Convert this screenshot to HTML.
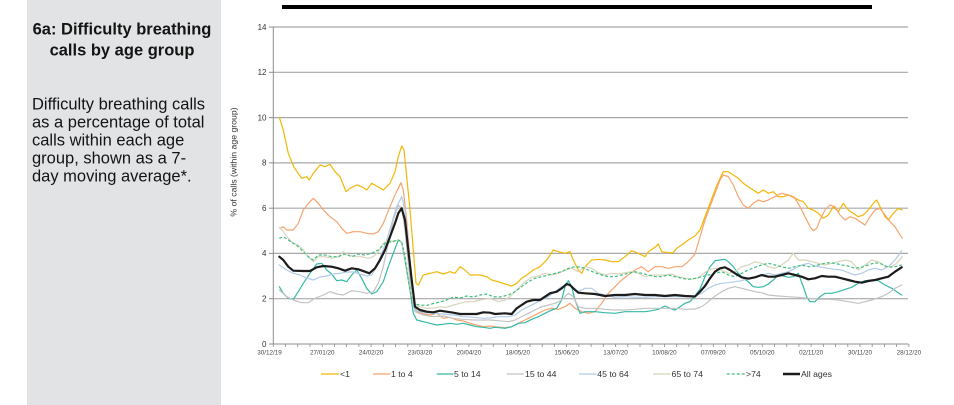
<!DOCTYPE html>
<html><head><meta charset="utf-8"><style>
html,body{margin:0;padding:0;background:#fff;width:954px;height:405px;overflow:hidden}
svg{display:block}
text{font-family:"Liberation Sans",Arial,sans-serif}
</style></head><body>
<svg width="954" height="405" viewBox="0 0 954 405" xmlns="http://www.w3.org/2000/svg">
<rect x="0" y="0" width="954" height="405" fill="#fff"/>
<rect x="27" y="0" width="194" height="405" fill="#e2e3e5"/>
<g fill="#141414">
<text x="122" y="34.5" font-size="16.5" font-weight="bold" text-anchor="middle">6a: Difficulty breathing</text>
<text x="122" y="55.5" font-size="16.5" font-weight="bold" text-anchor="middle">calls by age group</text>
<text x="32" y="109.3" font-size="16.5">Difficulty breathing calls</text>
<text x="32" y="127.3" font-size="16.5">as a percentage of total</text>
<text x="32" y="145.3" font-size="16.5">calls within each age</text>
<text x="32" y="163.3" font-size="16.5">group, shown as a 7-</text>
<text x="32" y="181.5" font-size="16.5">day moving average*.</text>
</g>
<rect x="282" y="5" width="590" height="4" fill="#000"/>
<!-- gridlines -->
<g stroke="#a8a8a8" stroke-width="1.2">
<line x1="273" y1="27" x2="908" y2="27"/>
<line x1="273" y1="72.3" x2="908" y2="72.3"/>
<line x1="273" y1="117.6" x2="908" y2="117.6"/>
<line x1="273" y1="162.9" x2="908" y2="162.9"/>
<line x1="273" y1="208.2" x2="908" y2="208.2"/>
<line x1="273" y1="253.4" x2="908" y2="253.4"/>
<line x1="273" y1="298.7" x2="908" y2="298.7"/>
</g>
<g stroke="#8c8c8c" stroke-width="1">
<line x1="273.3" y1="27" x2="273.3" y2="344"/>
<line x1="273" y1="344" x2="908.5" y2="344"/>
<line x1="269" y1="27" x2="273" y2="27"/>
<line x1="269" y1="72.3" x2="273" y2="72.3"/>
<line x1="269" y1="117.6" x2="273" y2="117.6"/>
<line x1="269" y1="162.9" x2="273" y2="162.9"/>
<line x1="269" y1="208.2" x2="273" y2="208.2"/>
<line x1="269" y1="253.4" x2="273" y2="253.4"/>
<line x1="269" y1="298.7" x2="273" y2="298.7"/>
<line x1="269" y1="344" x2="273" y2="344"/>
</g>
<g stroke="#8c8c8c" stroke-width="0.8" id="xt"></g>
<g fill="#333" font-size="8" text-anchor="end">
<text x="266.5" y="29.8">14</text>
<text x="266.5" y="75.1">12</text>
<text x="266.5" y="120.4">10</text>
<text x="266.5" y="165.7">8</text>
<text x="266.5" y="211">6</text>
<text x="266.5" y="256.2">4</text>
<text x="266.5" y="301.5">2</text>
<text x="266.5" y="346.8">0</text>
</g>
<text transform="translate(236.5,162) rotate(-90)" font-size="8.7" fill="#333" text-anchor="middle">% of calls (within age group)</text>
<g fill="#444" font-size="6.3" text-anchor="middle">
<text x="269.5" y="354.5">30/12/19</text>
<text x="322.2" y="354.5">27/01/20</text>
<text x="371.1" y="354.5">24/02/20</text>
<text x="420" y="354.5">23/03/20</text>
<text x="468.9" y="354.5">20/04/20</text>
<text x="517.8" y="354.5">18/05/20</text>
<text x="566.6" y="354.5">15/06/20</text>
<text x="615.5" y="354.5">13/07/20</text>
<text x="664.4" y="354.5">10/08/20</text>
<text x="713.3" y="354.5">07/09/20</text>
<text x="762.2" y="354.5">05/10/20</text>
<text x="811.1" y="354.5">02/11/20</text>
<text x="860" y="354.5">30/11/20</text>
<text x="908.9" y="354.5">28/12/20</text>
</g>
<g fill="none" stroke-linejoin="round" stroke-linecap="round">
<!-- <1 -->
<polyline stroke="#f2b705" stroke-width="1.2" points="279.3,117.3 283.3,130 288.3,153.3 294,167.3 301.7,178.3 306.7,176.7 309.3,180 313.3,173.3 320,165 325,166.7 330,164.3 335,171.7 340,176.7 346,191.7 350,188.3 356.7,185 361.7,186.7 366.7,190 371.7,183.3 376.7,186 383.3,190 390,183.3 395,171.7 398.3,156.7 401.7,146 404,150 406.7,176.7 410,210 413.3,250 416,283.3 418.3,285 423.3,275 430,273.3 436.7,271.7 443.3,274 450,271.7 455,273.3 460,266.7 465,270 470,275 480,275 486.7,276.7 491.7,280 498.3,281.7 505,284 511.7,286 516.7,283.3 521.7,278.3 526.7,275 533.3,270 540,266.7 546.7,260 553.3,250 558.3,251.7 565,253.3 570,251.7 573.3,260 578.3,270 581.7,273.3 585,266.7 591.7,260 598.3,259.3 605,260 611.7,261.7 618.3,261.7 625,256.7 631.7,250.7 638.3,253.3 645,256.7 648.3,251.7 655,247.3 658.3,244 661.7,251.7 668.3,252.7 673.3,252.7 676.7,248.3 681.7,245 688.3,240 695,236 700,230 705,216.7 710,203.3 715,190 720,178.3 723.3,171.7 728.3,171.7 733.3,175 738.3,178.3 743.3,183.3 748.3,186.7 753.3,190 758.3,193.3 763.3,190 768.3,193.3 773.3,191.7 778.3,196.7 783.3,196.7 788.3,195 793.3,196.7 798.3,200 803.3,201.7 808.3,208.3 813.3,210 818.3,213.3 823.3,218.3 828.3,215 833.3,206.7 838.3,211.7 843.3,203.3 848.3,210 853.3,213.3 858.3,216.7 863.3,215 868.3,210 873.3,203.3 876.7,200 880,206.7 885,216.7 888.3,220 893.3,213.3 898.3,208.3 902.3,210"/>
<!-- 1 to 4 -->
<polyline stroke="#f5a46e" stroke-width="1.2" points="280,228.3 283.3,226.7 286.7,230 293.3,230 298.3,223.3 303.3,210 308.3,203.3 313.3,198.3 318.3,203.3 323.3,210 330,216.7 336.7,221.7 341.7,228.3 346.7,233.3 353.3,231.7 360,231.7 366.7,233.3 373.3,234 378.3,231.7 383.3,223.3 390,206.7 395,195 401,182.7 403.3,190 406.7,220 410,260 413.3,296.7 416.7,311.7 423.3,314 430,315 436.7,313.3 443.3,318.3 450,317.3 456.7,320 463.3,321 470,323.3 476.7,325 483.3,326.7 490,326 495,326.7 505,327.7 511.7,326.7 518.3,323.3 525,320 531.7,316.7 538.3,313.3 545,310 551.7,308.3 558.3,309.3 565,306.7 570,303.3 575,308.3 581.7,311.7 588.3,313.3 595,311.7 601.7,303.3 608.3,293.3 615,286.7 621.7,280 628.3,275 635,270 641.7,266.7 648.3,271.7 655,266.7 661.7,266.7 668.3,268.3 675,266.7 681.7,266.7 686.7,263 691.7,258 695,254 700,237 705,220 710,206.7 715,193.3 720,180 723.3,175 728.3,176.7 733.3,185 738.3,196.7 743.3,205 748.3,208.3 753.3,203.3 758.3,200 763.3,201.7 768.3,200 775,196.7 781.7,193.3 788.3,195 795,198.3 800,206.7 805,216.7 810,226.7 813.3,230.7 816.7,228.3 820,220 825,210 830,205 835,206.7 840,215 845,220 850,216.7 855,218.3 860,221.7 865,225 870,216.7 875,210 880,208.3 885,215 890,221.7 895,226.7 899,233.3 902.3,238.3"/>
<!-- 5 to 14 -->
<polyline stroke="#35b8a6" stroke-width="1.2" points="279.3,286.7 283.3,293.3 288.3,298.3 293.3,299.3 298.3,291.7 303.3,283.3 310,273.3 316.7,264 321.7,263.3 326.7,270 331.7,274 336.7,280.7 341.7,280 346.7,281.7 351.7,275 356.7,270 361.7,278.3 366.7,288.3 371.7,294 376.7,291.7 383.3,281.7 388.3,266.7 393.3,253.3 398.3,240 401.7,242.7 405,260 410,290 413.3,313.3 416.7,320 423.3,321.7 430,323.3 436.7,325 443.3,324.3 450,323.3 456.7,324.3 463.3,323.3 470,325 476.7,326.7 483.3,327.3 490,328.3 495,327.3 505,328.3 511.7,326.7 518.3,323.3 525,322.7 531.7,319.3 538.3,316.7 545,313.3 551.7,310 556.7,308.3 561.7,300 565,286.7 568.3,280.7 571.7,286.7 575,300 580,313.3 585,311.7 595,311.7 605,312.7 615,313.3 625,311.7 635,311.7 645,311.7 651.7,310.7 658.3,309.3 665,306 670,308.3 675,310 680,306.7 685,303.3 690,301.7 695,296 700,289 705,276.7 710,266.7 715,260.7 720,260 725,259.3 728.3,261.7 733.3,266.7 738.3,273.3 743.3,278.3 748.3,281.7 753.3,286.7 758.3,287.3 763.3,286.7 768.3,284 773.3,280 778.3,275 783.3,276 788.3,277.3 793.3,276.7 798.3,273.3 803.3,286.7 806.7,296.7 810,301.7 815,301.7 820,296.7 825,293.3 831.7,293.3 838.3,291.7 845,289.3 851.7,287.3 858.3,283.3 865,280.7 871.7,280 878.3,280.7 885,285 891.7,288.3 896.7,291.7 901.7,295"/>
<!-- 15 to 44 -->
<polyline stroke="#c3c3c3" stroke-width="1.2" points="279.3,290 286.7,296.7 293.3,300 301.7,302.7 308.3,302.7 315,298.3 323.3,295 330,291.7 336.7,294 343.3,295 351.7,290.7 360,291.7 366.7,293.3 373.3,291.7 378.3,283.3 383.3,266.7 388.3,243.3 393.3,220 398.3,205 401.7,208.3 405,230 408.3,263.3 411.7,296.7 415,311.7 423.3,315 433.3,316.7 443.3,316 453.3,318.3 463.3,319.3 473.3,320 483.3,320 490,320 498.3,320.7 508.3,321.7 515,320 521.7,316.7 528.3,313.3 535,310 541.7,306.7 548.3,305 555,303.3 561.7,300 568.3,293.3 573.3,296.7 578.3,306.7 585,308.3 595,308.3 605,309.3 615,310 625,310 635,309.3 645,308.3 655,308.3 665,308.3 675,308.3 685,309.3 695,309 701.7,306.7 708.3,301.7 715,296 721.7,291.7 728.3,288.3 735,286.7 741.7,288.3 748.3,290 755,291.7 761.7,292.7 768.3,295 778.3,296 788.3,296.7 798.3,297.3 808.3,298.3 818.3,299.3 828.3,299.3 838.3,300 848.3,301.7 858.3,303.3 865,301.7 871.7,300 881.7,296.7 888.3,293.3 895,288.3 901.7,285"/>
<!-- 45 to 64 -->
<polyline stroke="#b1cbe8" stroke-width="1.2" points="279.3,265 286.7,270 293.3,273.3 300,275 306.7,278 313.3,280 320,277 326.7,276 333.3,274 340,273.3 346.7,272 353.3,272 360,274 366.7,276 371.7,275 376.7,266.7 381.7,253.3 386.7,240 391.7,223.3 396.7,206.7 401.7,196.7 405,210 408.3,243.3 411.7,283.3 415,310 423.3,312.7 433.3,313.3 443.3,314 453.3,315 463.3,316.7 473.3,317.3 483.3,318.3 490,318 498.3,316.7 508.3,316.7 515,315 521.7,310 528.3,306.7 535,303.3 541.7,300 548.3,296.7 555,291.7 561.7,286.7 566.7,285 571.7,286.7 578.3,291.7 585,288.3 591.7,288.3 598.3,293.3 605,295 615,297.3 625,296.7 635,297.3 645,297.3 655,296.7 665,296.7 675,296.7 685,296.7 695,296 701.7,293.3 708.3,288.3 715,285 721.7,283.3 728.3,282.7 735,281.7 741.7,280.7 748.3,278.3 755,276.7 761.7,275 768.3,273.3 775,275 781.7,273.3 788.3,271.7 795,268.3 801.7,265 808.3,263.3 815,266 821.7,267.3 828.3,268.3 835,269.3 841.7,270 848.3,272.7 855,275 861.7,273.3 868.3,270 875,268.3 881.7,270 888.3,266.7 895,260 901.7,250.7"/>
<!-- 65 to 74 -->
<polyline stroke="#d8d5bb" stroke-width="1.2" points="279.3,227.3 283.3,231.7 288.3,238.3 293.3,243.3 298.3,245 303.3,250 308.3,256.7 313.3,261.7 318.3,256.7 325,256.7 331.7,258.3 338.3,256.7 343.3,251.7 348.3,255 355,256.7 361.7,256.7 368.3,258.3 373.3,256.7 378.3,251.7 383.3,243.3 388.3,240 393.3,241.7 398.3,240 401.7,243.3 405,256.7 408.3,276.7 411.7,296.7 415,305 420,306.7 426.7,308.3 433.3,308.3 440,306.7 446.7,307.3 453.3,305 460,303.3 466.7,301.7 473.3,301.7 480,300 490,298.3 498.3,301.7 505,300 511.7,295 518.3,288.3 525,281.7 531.7,277.3 538.3,276 545,273.3 551.7,275 558.3,273.3 565,270 571.7,268.3 578.3,271.7 585,266.7 591.7,268.3 598.3,272.7 605,275 611.7,273.3 618.3,274 625,272.7 631.7,271.7 638.3,273.3 645,276.7 651.7,275 658.3,275 665,275 671.7,274 678.3,276.7 685,278.3 691.7,279.3 698.3,278 701.7,275 708.3,270 715,268.3 721.7,270 728.3,273.3 735,271.7 741.7,266.7 748.3,265 755,261.7 761.7,263.3 768.3,266.7 775,268.3 781.7,265 788.3,260 793.3,253.3 798.3,260 805,260 811.7,261.7 818.3,263.3 825,265 831.7,263.3 838.3,261.7 845,260 851.7,261.7 858.3,270 865,265 871.7,260 878.3,261.7 885,266.7 891.7,266.7 896.7,263.3 902.3,256.7"/>
<!-- >74 -->
<polyline stroke="#3fbf80" stroke-width="1.2" stroke-dasharray="3,2" stroke-linecap="butt" points="279.3,238.3 283.3,236.7 288.3,240 293.3,243.3 298.3,246.7 303.3,251.7 308.3,256.7 313.3,260 318.3,255 325,255 331.7,256.7 338.3,256.7 345,254 351.7,256.7 358.3,254 365,255 371.7,253.3 378.3,250 385,243.3 391.7,241.7 398.3,240 401.7,241.7 405,256.7 408.3,280 411.7,298.3 415,304 420,305 426.7,305.5 433.3,303.5 440,302 446.7,300 453.3,297 460,298 466.7,296 473.3,297 480,295 486.7,294 493.3,296.7 500,297 508.3,295 515,291.7 521.7,286.7 528.3,281.7 535,278.3 541.7,276.7 548.3,275 555,273.3 561.7,271.7 568.3,268.3 575,266.7 581.7,267.3 588.3,270 595,272.7 601.7,275 608.3,276.7 615,276.7 621.7,275 628.3,273.3 635,271.7 641.7,273.3 648.3,275 655,276.7 661.7,276.7 668.3,275 675,276.7 681.7,278.3 688.3,279.3 695,278.3 701.7,276.7 708.3,275 715,273.3 721.7,271.7 728.3,275 735,276.7 741.7,273.3 748.3,270 755,267.3 761.7,265 768.3,263.3 775,265 781.7,266.7 788.3,268.3 795,266.7 801.7,265 808.3,266.7 815,266 821.7,264 828.3,262.7 835,263.3 841.7,265 848.3,266 855,268.3 861.7,267.3 868.3,265 875,262.7 881.7,264 888.3,267.3 895,266.7 901.7,265"/>
<!-- All ages -->
<polyline stroke="#1c1c1c" stroke-width="2.2" points="279.3,256.7 283.3,260 288.3,266.7 293.3,270.7 303.3,271 310,271 316.7,267.3 323.3,266 331.7,266.7 338.3,268.3 345,270.7 351.7,268.3 358.3,269.3 365,271.7 369.3,273.3 375,268.3 380,260 385,250 390,236.7 395,223.3 398.3,213.3 401.7,208.3 405,220 408.3,250 411.7,280 415,306.7 420,310 426.7,311.7 433.3,312.3 440,310.7 446.7,311.7 453.3,312.7 460,314 470,314 476.7,314 483.3,312.3 490,312.7 495,314 505,313.3 511.7,314 516.7,308.3 521.7,305 526.7,301.7 533.3,300 540,300 545,296.7 550,293.3 556.7,291.7 561.7,288.3 566.7,284 570,285 573.3,288.3 578.3,292.7 585,293.3 595,294 605,296 615,295 625,295 635,294 645,295 655,295 665,296 675,295 685,296 695,296.5 700,291.7 705,286 710,278.3 715,271.7 720,268.3 725,267.3 730,270 735,273.3 741.7,277.3 748.3,278.7 755,277.3 761.7,275 768.3,276.7 775,276.7 781.7,275 788.3,273.3 795,275 801.7,276.7 808.3,279.3 815,278.3 821.7,276 828.3,276.7 835,276.7 841.7,278.3 848.3,280 855,281.7 861.7,282.7 868.3,281 875,280 881.7,278.3 888.3,276.7 895,271.7 901.7,267.3"/>
</g>
<!-- x ticks every 7 days -->
<path stroke="#8c8c8c" stroke-width="0.8" d="M273.3 344v3M285.5 344v3M297.7 344v3M310 344v3M322.2 344v3M334.4 344v3M346.6 344v3M358.9 344v3M371.1 344v3M383.3 344v3M395.5 344v3M407.8 344v3M420 344v3M432.2 344v3M444.4 344v3M456.6 344v3M468.9 344v3M481.1 344v3M493.3 344v3M505.5 344v3M517.8 344v3M530 344v3M542.2 344v3M554.4 344v3M566.6 344v3M578.9 344v3M591.1 344v3M603.3 344v3M615.5 344v3M627.8 344v3M640 344v3M652.2 344v3M664.4 344v3M676.7 344v3M688.9 344v3M701.1 344v3M713.3 344v3M725.5 344v3M737.8 344v3M750 344v3M762.2 344v3M774.4 344v3M786.7 344v3M798.9 344v3M811.1 344v3M823.3 344v3M835.5 344v3M847.8 344v3M860 344v3M872.2 344v3M884.4 344v3M896.6 344v3M908.9 344v3"/>
<!-- legend -->
<g stroke-width="1.3" fill="none">
<line x1="321" y1="374" x2="339" y2="374" stroke="#f2b705"/>
<line x1="373" y1="374" x2="390.5" y2="374" stroke="#f5a46e"/>
<line x1="436.7" y1="374" x2="453.5" y2="374" stroke="#35b8a6"/>
<line x1="506.7" y1="374" x2="524" y2="374" stroke="#c3c3c3"/>
<line x1="579" y1="374" x2="596.5" y2="374" stroke="#b1cbe8"/>
<line x1="653" y1="374" x2="670.7" y2="374" stroke="#d8d5bb"/>
<line x1="726.7" y1="374" x2="745" y2="374" stroke="#3fbf80" stroke-dasharray="3,2"/>
<line x1="783" y1="374" x2="800" y2="374" stroke="#1c1c1c" stroke-width="2.4"/>
</g>
<g fill="#333" font-size="8.7">
<text x="340" y="377.2">&lt;1</text>
<text x="391" y="377.2">1 to 4</text>
<text x="454" y="377.2">5 to 14</text>
<text x="525" y="377.2">15 to 44</text>
<text x="597.3" y="377.2">45 to 64</text>
<text x="671.5" y="377.2">65 to 74</text>
<text x="746" y="377.2">&gt;74</text>
<text x="801" y="377.2">All ages</text>
</g>
</svg>
</body></html>
